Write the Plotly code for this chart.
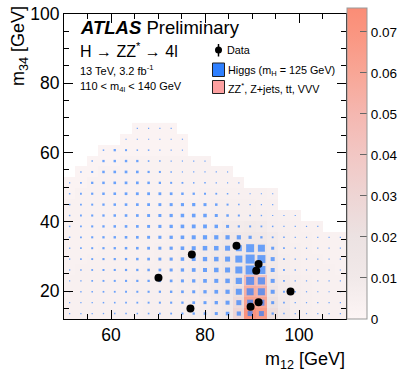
import numpy as np
import plotly.graph_objects as go

# ---------------- data ----------------
m12_range = [50.0, 110.0]   # 25 bins of 2.4 GeV
m34_range = [12.0, 100.0]   # 28 bins of 3.143 GeV
n12, n34 = 25, 28

N = None
# background (ZZ*, Z+jets, tt, VVV) per (m34 row, m12 col); None = empty bin
bkg = [
    [.004,.004,.004,.004,.004,.004,.004,.005,.005,.005,.005,.006,.007,.009,.012,.030,.072,.066,.024,.010,.006,.005,.004,.004,.004],
    [.004,.004,.004,.004,.004,.004,.004,.005,.005,.005,.005,.006,.007,.009,.012,.026,.062,.060,.020,.009,.006,.005,.004,.004,.004],
    [.004,.004,.004,.004,.004,.004,.005,.005,.005,.005,.006,.006,.008,.010,.013,.022,.055,.052,.016,.008,.006,.005,.004,.004,.004],
    [.004,.004,.004,.004,.004,.004,.005,.005,.005,.005,.006,.007,.008,.010,.013,.018,.046,.042,.013,.008,.006,.005,.004,.004,.004],
    [.003,.004,.004,.004,.004,.004,.004,.005,.005,.005,.006,.007,.008,.010,.014,.016,.022,.020,.011,.007,.005,.004,.004,.004,.003],
    [.003,.003,.004,.004,.004,.004,.004,.004,.005,.005,.006,.007,.008,.011,.014,.015,.018,.017,.010,.007,.005,.004,.004,.003,.003],
    [.003,.003,.003,.004,.004,.004,.004,.004,.005,.005,.006,.007,.008,.010,.013,.013,.015,.014,.009,.006,.005,.004,.003,.003,.003],
    [.003,.003,.003,.003,.004,.004,.004,.004,.004,.005,.005,.006,.007,.009,.011,.011,.012,.011,.008,.006,.004,.004,.003,.003,.003],
    [.003,.003,.003,.003,.003,.004,.004,.004,.004,.004,.005,.005,.006,.007,.008,.008,.009,.008,.006,.005,.004,.003,.003,N,N],
    [.003,.003,.003,.003,.003,.003,.003,.004,.004,.004,.004,.005,.005,.006,.006,.006,.006,.006,.005,.004,.003,N,N,N,N],
    [.003,.003,.003,.003,.003,.003,.003,.003,.003,.004,.004,.004,.004,.005,.005,.005,.005,.004,.004,N,N,N,N,N,N],
    [.002,.003,.003,.003,.003,.003,.003,.003,.003,.003,.003,.003,.004,.004,.004,.004,.004,.004,.003,N,N,N,N,N,N],
    [.002,.002,.003,.003,.003,.003,.003,.003,.003,.003,.003,.003,.003,.003,.003,.003,N,N,N,N,N,N,N,N,N],
    [N,.002,.002,.003,.003,.003,.003,.003,.003,.003,.003,.003,.003,.003,.003,N,N,N,N,N,N,N,N,N,N],
    [N,N,.002,.002,.002,.003,.003,.003,.003,.003,.003,.003,.003,N,N,N,N,N,N,N,N,N,N,N,N],
    [N,N,N,.002,.002,.002,.002,.002,.002,.002,.002,N,N,N,N,N,N,N,N,N,N,N,N,N,N],
    [N,N,N,N,N,.002,.002,.002,.002,.002,.002,N,N,N,N,N,N,N,N,N,N,N,N,N,N],
    [N,N,N,N,N,N,.002,.002,.002,.002,N,N,N,N,N,N,N,N,N,N,N,N,N,N,N],
]

# Higgs signal (relative box size) per (m34 row, m12 col); 0 = empty
sig = [
    [1.0,1.0,1.2,1.3,1.4,1.5,1.5,1.6,1.7,1.8,2.0,2.3,2.6,3.0,3.6,4.2,5.0,5.0,2.2,1.5,1.2,1.2,1.0,1.0,1.0],
    [1.0,1.2,1.3,1.5,1.6,1.7,1.8,1.9,2.0,2.1,2.3,2.7,3.0,3.3,4.0,5.0,6.0,6.0,3.0,1.7,1.3,1.2,1.0,1.0,1.0],
    [1.1,1.3,1.5,1.7,1.8,1.9,2.0,2.1,2.2,2.4,2.7,3.0,3.3,3.7,4.2,6.0,7.0,7.0,4.0,1.8,1.4,1.2,1.0,1.0,1.0],
    [1.2,1.4,1.7,1.9,2.0,2.1,2.2,2.3,2.5,2.7,3.0,3.3,3.7,4.0,4.5,6.2,8.0,7.2,4.0,1.8,1.4,1.2,1.0,1.0,1.0],
    [1.3,1.5,1.8,2.0,2.1,2.2,2.3,2.5,2.7,3.0,3.3,3.7,4.0,4.5,5.0,7.0,9.0,8.0,4.0,1.8,1.4,1.2,1.0,1.0,1.0],
    [1.3,1.6,1.9,2.1,2.2,2.3,2.5,2.7,2.9,3.1,3.5,3.9,4.3,4.5,5.0,7.0,9.0,8.0,4.0,1.8,1.4,1.2,1.0,1.0,1.0],
    [1.4,1.7,2.0,2.2,2.3,2.5,2.6,2.8,3.0,3.2,3.6,4.0,4.5,4.5,5.0,6.0,8.0,7.0,3.0,1.7,1.3,1.1,1.0,1.0,0.9],
    [1.5,1.8,2.1,2.3,2.4,2.6,2.7,2.9,3.1,3.3,3.6,4.0,4.2,4.2,4.2,4.2,3.2,2.3,1.8,1.5,1.2,1.0,1.0,0.8,0.8],
    [1.5,1.8,2.1,2.3,2.5,2.6,2.7,2.9,3.1,3.3,3.6,3.8,3.8,3.5,3.0,2.2,2.0,1.8,1.5,1.2,1.0,1.0,0.8,0,0],
    [1.5,1.8,2.1,2.3,2.5,2.6,2.7,2.9,3.0,3.2,3.5,3.6,3.5,3.0,2.5,2.0,1.6,1.4,1.2,1.0,0.8,0,0,0,0],
    [1.5,1.8,2.0,2.3,2.5,2.6,2.7,2.8,2.9,3.0,3.1,3.2,3.0,2.5,2.0,1.5,1.3,1.1,1.0,0,0,0,0,0,0],
    [1.5,1.8,2.2,2.5,2.6,2.7,2.8,2.8,2.8,2.7,2.5,2.3,2.0,1.8,1.5,1.2,1.0,1.0,0.8,0,0,0,0,0,0],
    [1.3,1.7,2.3,2.5,2.6,2.7,2.7,2.5,2.3,2.0,1.8,1.5,1.5,1.3,1.0,1.0,0,0,0,0,0,0,0,0,0],
    [0,1.4,2.0,2.5,2.6,2.7,2.6,2.2,2.0,1.5,1.2,1.0,1.0,1.0,0.8,0,0,0,0,0,0,0,0,0,0],
    [0,0,1.5,2.3,2.4,2.4,2.3,1.6,1.5,1.0,0.8,0.8,0.8,0,0,0,0,0,0,0,0,0,0,0,0],
    [0,0,0,1.5,2.3,2.0,1.5,1.5,1.0,0.8,0.8,0,0,0,0,0,0,0,0,0,0,0,0,0,0],
    [0,0,0,0,0,1.0,1.0,1.0,0.8,0.6,0.6,0,0,0,0,0,0,0,0,0,0,0,0,0,0],
    [0,0,0,0,0,0,1.0,0.6,0.5,0.5,0,0,0,0,0,0,0,0,0,0,0,0,0,0,0],
]

data_m12 = [86.7, 77.2, 70.1, 76.9, 91.4, 90.9, 98.2, 91.4, 89.7]
data_m34 = [33.1, 30.6, 23.9, 15.0, 27.9, 25.9, 19.9, 16.8, 15.5]

cbar_ticks = [0, 0.01, 0.02, 0.03, 0.04, 0.05, 0.06, 0.07]
x_ticks = [60, 80, 100]
y_ticks = [20, 40, 60, 80, 100]
zmax = 0.0758

# ---------------- geometry ----------------
w12 = (m12_range[1] - m12_range[0]) / n12
w34 = (m34_range[1] - m34_range[0]) / n34
xc = [m12_range[0] + w12 * (i + 0.5) for i in range(n12)]
yc = [m34_range[0] + w34 * (j + 0.5) for j in range(len(bkg))]

FONT = "Liberation Sans, Arial, Helvetica, sans-serif"
W, H = 398, 372
L, R, T, B = 64, 346, 14, 319

def px(xp):
    return (xp - L) / (R - L)

def py(yp):
    return (B - yp) / (B - T)

cs_vals = [0, 0.01, 0.02, 0.03, 0.04, 0.05, 0.06, 0.07, zmax]
cs_cols = ["rgb(253,245,245)", "rgb(241,233,233)", "rgb(236,226,226)", "rgb(238,213,212)",
           "rgb(242,199,196)", "rgb(245,183,176)", "rgb(248,166,150)", "rgb(250,149,128)",
           "rgb(250,141,118)"]
colorscale = [[v / zmax, c] for v, c in zip(cs_vals, cs_cols)]

fig = go.Figure()
fig.add_trace(go.Heatmap(
    x=xc, y=yc, z=bkg, zmin=0, zmax=zmax, colorscale=colorscale,
    hoverongaps=False, showscale=True,
    colorbar=dict(x=1.0035, xanchor="left", xpad=0, y=0, yanchor="bottom", ypad=0,
                  len=(B - 8) / (B - T), lenmode="fraction", thickness=20,
                  outlinewidth=1, outlinecolor="#999999",
                  ticks="inside", ticklen=7, tickcolor="#666666",
                  tickvals=cbar_ticks, ticktext=[("%g" % v) for v in cbar_ticks],
                  tickfont=dict(family=FONT, size=13.5, color="black")),
))

sx, sy, ss = [], [], []
for j, row in enumerate(sig):
    for i, v in enumerate(row):
        if v > 0:
            sx.append(xc[i]); sy.append(yc[j]); ss.append(max(v, 1.2))
fig.add_trace(go.Scatter(x=sx, y=sy, mode="markers",
                         marker=dict(symbol="square", size=ss, color="#2f80ff", line=dict(width=0)),
                         showlegend=False))

fig.add_trace(go.Scatter(x=data_m12, y=data_m34, mode="markers",
                         marker=dict(symbol="circle", size=8, color="black", line=dict(width=0)),
                         showlegend=False))

axis_common = dict(showgrid=False, zeroline=False, showline=True, linecolor="black", linewidth=1,
                   mirror="allticks", ticks="inside", ticklen=9, tickcolor="black", tickwidth=1,
                   tickfont=dict(family=FONT, size=17.5, color="black"))
fig.update_xaxes(range=m12_range, tickvals=x_ticks,
                 minor=dict(ticks="inside", ticklen=5, dtick=5, tick0=50, tickcolor="black"),
                 **axis_common)
fig.update_yaxes(range=m34_range, tickvals=y_ticks,
                 minor=dict(ticks="inside", ticklen=5, dtick=5, tick0=10, tickcolor="black"),
                 **axis_common)

ann = []
def text(x, y, s, size, xanchor="left", yanchor="middle", angle=0):
    ann.append(dict(x=px(x), y=py(y), xref="paper", yref="paper", text=s, showarrow=False,
                    xanchor=xanchor, yanchor=yanchor, textangle=angle,
                    font=dict(family=FONT, size=size, color="black")))

text(78, 27, "<b><i>ATLAS</i></b> Preliminary", 18.5)
text(78, 50, "H → ZZ<sup>*</sup> → 4l", 16)
text(78, 70, "13 TeV, 3.2 fb<sup>-1</sup>", 11)
text(78, 87, "110 &lt; m<sub>4l</sub> &lt; 140 GeV", 11)

text(225, 50, "Data", 10.8)
text(226, 71, "Higgs (m<sub>H</sub> = 125 GeV)", 10.8)
text(226, 87.5, "ZZ<sup>*</sup>, Z+jets, tt, VVV", 10.8)

text(347, 360, "m<sub>12</sub> [GeV]", 18, xanchor="right")
text(20, 4, "m<sub>34</sub> [GeV]", 18, xanchor="center", yanchor="top", angle=-90)

shapes = [
    dict(type="line", xref="paper", yref="paper", x0=px(218.5), x1=px(218.5), y0=py(44), y1=py(56.5),
         line=dict(color="black", width=1.5)),
    dict(type="circle", xref="paper", yref="paper", x0=px(215), x1=px(222), y0=py(53.5), y1=py(46.5),
         fillcolor="black", line=dict(color="black", width=0)),
    dict(type="rect", xref="paper", yref="paper", x0=px(212.5), x1=px(224.5), y0=py(76.5), y1=py(63),
         fillcolor="#2f80ff", line=dict(color="#222222", width=1)),
    dict(type="rect", xref="paper", yref="paper", x0=px(212.5), x1=px(224.5), y0=py(93.5), y1=py(80.5),
         fillcolor="#fca0a0", line=dict(color="#222222", width=1)),
]

fig.update_layout(width=W, height=H,
                  margin=dict(l=L, r=W - R, t=T, b=H - B, pad=0, autoexpand=False),
                  paper_bgcolor="white", plot_bgcolor="white", showlegend=False,
                  annotations=ann, shapes=shapes)

fig.write_html("out.html")
